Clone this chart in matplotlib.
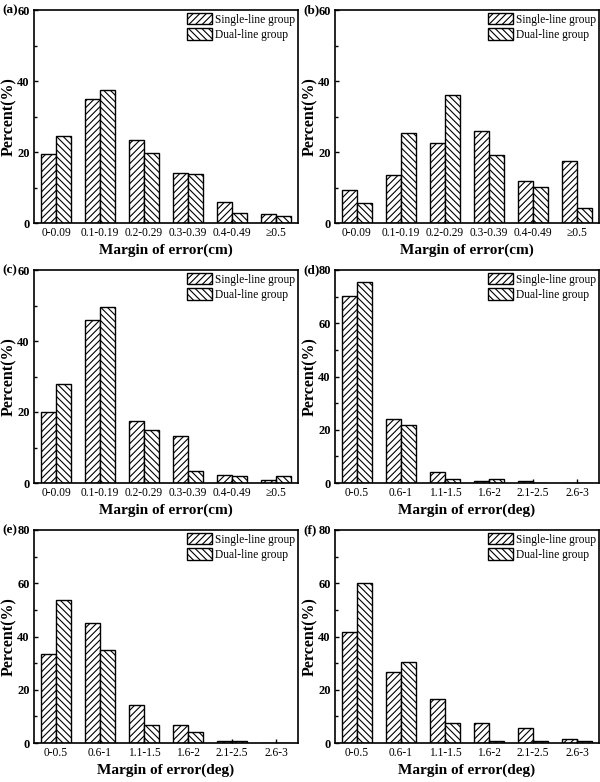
import matplotlib
matplotlib.use("Agg")
import matplotlib.pyplot as plt
import numpy as np
from matplotlib.ticker import MultipleLocator
from matplotlib.patches import Patch

plt.rcParams['font.family'] = ['Liberation Serif', 'DejaVu Serif']
plt.rcParams['hatch.linewidth'] = 0.8

cm_labels = ["0-0.09", "0.1-0.19", "0.2-0.29", "0.3-0.39", "0.4-0.49", "≥0.5"]
deg_labels = ["0-0.5", "0.6-1", "1.1-1.5", "1.6-2", "2.1-2.5", "2.6-3"]

a_single = [19.3, 35.0, 23.4, 14.2, 5.9, 2.6]
a_dual = [24.5, 37.5, 19.8, 13.7, 2.8, 2.1]
b_single = [9.3, 13.4, 22.6, 26.0, 11.7, 17.5]
b_dual = [5.5, 25.3, 36.1, 19.1, 10.2, 4.1]
c_single = [20.0, 45.9, 17.5, 13.3, 2.3, 0.8]
c_dual = [27.9, 49.7, 15.0, 3.4, 2.1, 2.1]
d_single = [70.2, 24.2, 4.1, 0.9, 0.9, 0.0]
d_dual = [75.6, 21.8, 1.4, 1.4, 0.0, 0.0]
e_single = [33.3, 45.0, 14.1, 6.6, 0.8, 0.0]
e_dual = [53.8, 34.8, 6.6, 4.1, 0.7, 0.0]
f_single = [41.6, 26.5, 16.6, 7.5, 5.8, 1.6]
f_dual = [60.0, 30.6, 7.5, 0.6, 0.6, 0.6]

panels = [
    ("(a)", cm_labels, a_single, a_dual, 60, "Margin of error(cm)"),
    ("(b)", cm_labels, b_single, b_dual, 60, "Margin of error(cm)"),
    ("(c)", cm_labels, c_single, c_dual, 60, "Margin of error(cm)"),
    ("(d)", deg_labels, d_single, d_dual, 80, "Margin of error(deg)"),
    ("(e)", deg_labels, e_single, e_dual, 80, "Margin of error(deg)"),
    ("(f)", deg_labels, f_single, f_dual, 80, "Margin of error(deg)"),
]

W, H = 600, 782
fig = plt.figure(figsize=(6.0, 7.82), dpi=100)

lefts = [34, 335]
tops = [10, 270, 530]
aw, ah = 264, 213

hatch_s = "/////"
hatch_d = "\\\\\\\\\\"

for i, (tag, labels, s, d, ymax, xlab) in enumerate(panels):
    r, c = divmod(i, 2)
    l = lefts[c]
    t = tops[r]
    ax = fig.add_axes([l / W, 1 - (t + ah) / H, aw / W, ah / H])
    x = np.arange(len(labels))
    bw = 0.35
    ax.bar(x - bw / 2, s, width=bw, facecolor="white", edgecolor="black",
           hatch=hatch_s, linewidth=1.0)
    ax.bar(x + bw / 2, d, width=bw, facecolor="white", edgecolor="black",
           hatch=hatch_d, linewidth=1.0)
    ax.set_xlim(-0.5, len(labels) - 0.5)
    ax.set_ylim(0, ymax)
    ax.yaxis.set_major_locator(MultipleLocator(20))
    ax.yaxis.set_minor_locator(MultipleLocator(10))
    ax.set_xticks(x)
    ax.set_xticklabels(labels, fontsize=8.3)
    ax.tick_params(axis="both", which="both", direction="in", width=1.0)
    ax.tick_params(axis="y", which="major", length=3, pad=3, labelsize=9)
    ax.tick_params(axis="y", which="minor", length=2)
    ax.tick_params(axis="x", which="major", length=3, pad=3)
    for lab in ax.get_yticklabels():
        lab.set_fontweight("bold")
    for sp in ax.spines.values():
        sp.set_linewidth(1.2)
    ax.set_xlabel(xlab, fontsize=11, fontweight="bold", labelpad=3)
    ax.set_ylabel("Percent(%)", fontsize=11.5, fontweight="bold", labelpad=0)
    handles = [Patch(facecolor="white", edgecolor="black", hatch=hatch_s, linewidth=1.0),
               Patch(facecolor="white", edgecolor="black", hatch=hatch_d, linewidth=1.0)]
    ax.legend(handles, ["Single-line group", "Dual-line group"], loc="upper right",
              frameon=False, fontsize=8.3, handlelength=2.2, handleheight=1.15,
              handletextpad=0.25, labelspacing=0.25, borderaxespad=0.15,
              borderpad=0.1)
    fig.text((l - 32) / W, 1 - t / H, tag, fontsize=9.5, fontweight="bold",
             ha="left", va="center")

fig.savefig("out.png", dpi=100)
